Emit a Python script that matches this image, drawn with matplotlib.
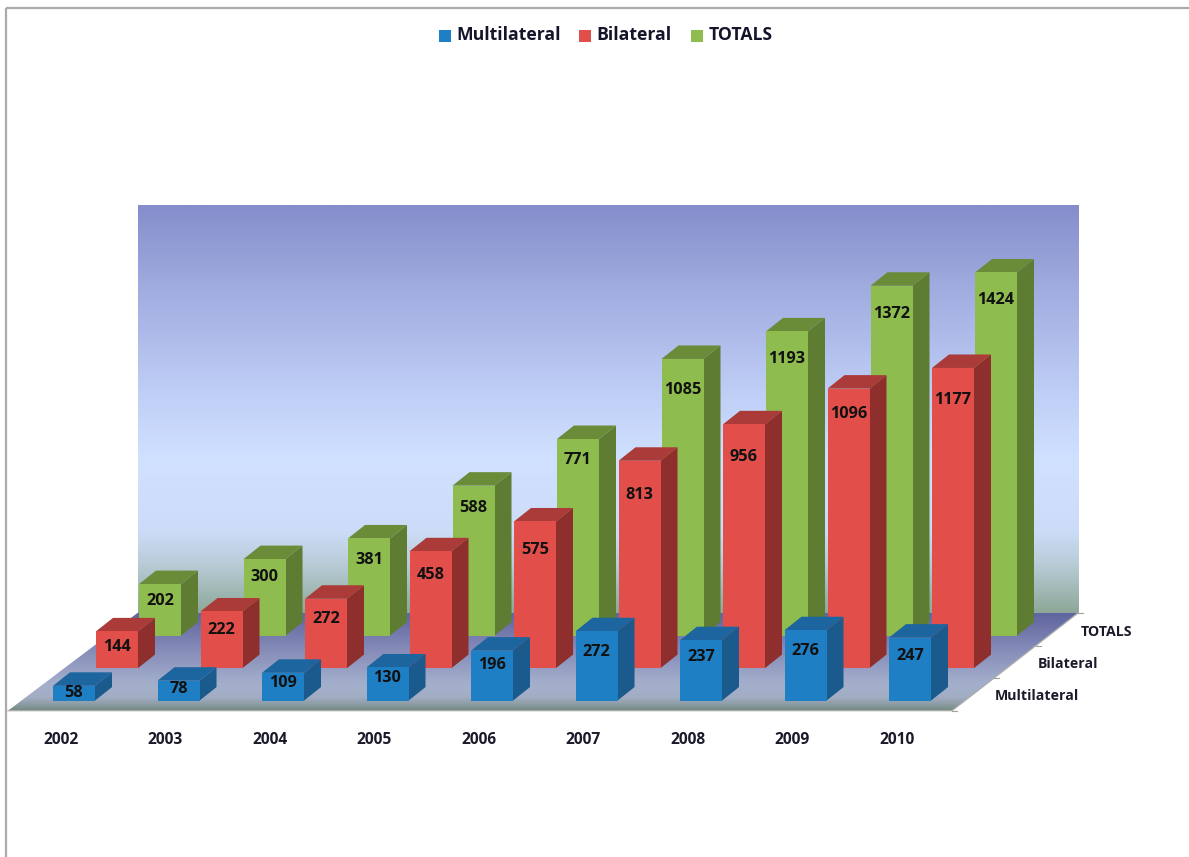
import numpy as np
import matplotlib
matplotlib.use("Agg")
import matplotlib.pyplot as plt
from matplotlib.colors import LinearSegmentedColormap
from matplotlib.patches import Polygon, Rectangle

# ---- data ----
years = ["2002", "2003", "2004", "2005", "2006", "2007", "2008", "2009", "2010"]
series_names = ["Multilateral", "Bilateral", "TOTALS"]
multilateral = [58, 78, 109, 130, 196, 272, 237, 276, 247]
bilateral = [144, 222, 272, 458, 575, 813, 956, 1096, 1177]
totals = [202, 300, 381, 588, 771, 1085, 1193, 1372, 1424]

# ---- layout (pixels) ----
W, H = 1189, 857
X0, Y0 = 53.0, 700.6      # front-left-bottom of first front bar
STEP = 104.5              # between years
SER_DX, SER_DY = 43.0, -32.5   # between series
BAR_W = 42.0
DEP_DX, DEP_DY = 17.0, -13.5   # bar depth
SCALE = 0.255             # px per unit
FLOOR = [(8, 710.7), (952, 710.7), (1078, 613), (137.5, 613)]
WALL_TOP = 205

label_drop = [
    [7, 8, 10, 11, 14, 21, 17, 21, 18],
    [16, 19, 20, 24, 29, 34, 33, 25, 32],
    [17, 18, 22, 22, 21, 31, 28, 28, 28],
]
faces = [
    ("#1F7FC4", "#1D659F", "#1B5A8C"),
    ("#E24F4A", "#AB3B38", "#8E2F2D"),
    ("#8EBC4F", "#6A8C39", "#5E7C32"),
]
all_values = [multilateral, bilateral, totals]

plt.rcParams["font.family"] = ["Open Sans", "DejaVu Sans"]
fig = plt.figure(figsize=(W / 100, H / 100), dpi=100, facecolor="white")
ax = fig.add_axes([0, 0, 1, 1])
ax.set_xlim(0, W)
ax.set_ylim(H, 0)
ax.axis("off")


def gradient(stops, extent, clip=None, z=1):
    cmap = LinearSegmentedColormap.from_list("g", stops)
    arr = np.linspace(0, 1, 256).reshape(-1, 1)
    im = ax.imshow(arr, cmap=cmap, extent=extent, aspect="auto", zorder=z, interpolation="bilinear")
    if clip is not None:
        poly = Polygon(clip, closed=True, transform=ax.transData, fc="none", ec="none")
        ax.add_patch(poly)
        im.set_clip_path(poly)


# frame of the original screenshot
ax.plot([6, 6], [H, 8], color="#ABABAB", lw=1.6, zorder=1, solid_capstyle="butt")
ax.plot([6, W], [8, 8], color="#ABABAB", lw=1.6, zorder=1, solid_capstyle="butt")

# back wall (extent: left, right, bottom, top)
wall_stops = [
    (0.00, "#858ECB"), (0.20, "#A0ABDF"), (0.45, "#BECDF5"), (0.62, "#D0E0FF"),
    (0.80, "#CCDCF8"), (0.88, "#B9CCD8"), (1.00, "#8DA898"),
]
gradient(wall_stops, (137.5, 1078, 613, WALL_TOP))

# floor
floor_stops = [
    (0.00, "#5F659F"), (0.35, "#8389B6"), (0.72, "#A4AFCC"), (0.86, "#A2ADC4"),
    (0.93, "#8D9DA4"), (1.00, "#73887F"),
]
gradient(floor_stops, (8, 1078, 710.7, 613), clip=FLOOR, z=2)
ax.plot([FLOOR[0][0], FLOOR[1][0], FLOOR[2][0]], [FLOOR[0][1], FLOOR[1][1], FLOOR[2][1]],
        color="#ABAEAB", lw=0.9, zorder=3)

# ticks along right floor edge
for k in range(4):
    fx = FLOOR[1][0] + (FLOOR[2][0] - FLOOR[1][0]) * k / 3
    fy = FLOOR[1][1] + (FLOOR[2][1] - FLOOR[1][1]) * k / 3
    ax.plot([fx, fx + 5], [fy, fy], color="#A0A0A0", lw=0.8, zorder=3)

# bars, back to front
z = 10
for s in (2, 1, 0):
    front, top, side = faces[s]
    for i, v in enumerate(all_values[s]):
        xl = X0 + STEP * i + SER_DX * s
        yb = Y0 + SER_DY * s
        h = v * SCALE
        yt = yb - h
        xr = xl + BAR_W
        ax.add_patch(Polygon([(xr, yb), (xr + DEP_DX, yb + DEP_DY), (xr + DEP_DX, yt + DEP_DY), (xr, yt)],
                             fc=side, ec="none", zorder=z))
        ax.add_patch(Polygon([(xl, yt), (xr, yt), (xr + DEP_DX, yt + DEP_DY), (xl + DEP_DX, yt + DEP_DY)],
                             fc=top, ec="none", zorder=z))
        ax.add_patch(Rectangle((xl, yt), BAR_W, h, fc=front, ec="none", zorder=z))
        ax.text(xl + BAR_W / 2, yt + label_drop[s][i], str(v), ha="center", va="center",
                fontsize=11.7, fontweight="bold", color="#111111", zorder=z + 1)
        z += 2

# axis labels
for i, y in enumerate(years):
    ax.text(61 + STEP * i, 739.5, y, ha="center", va="center", fontsize=11.2,
            fontweight="bold", color="#1A1A2A", zorder=50)
for s, name in enumerate(series_names):
    ax.text(995 + SER_DX * s, 696.5 + SER_DY * s, name, ha="left", va="center",
            fontsize=10.2, fontweight="bold", color="#1A1A2A", zorder=50)

# legend
legend_sq = [439, 579, 691]
for s, name in enumerate(series_names):
    ax.add_patch(Rectangle((legend_sq[s], 29.5), 12, 12, fc=faces[s][0], ec="none", zorder=50))
    ax.text(legend_sq[s] + 17.5, 35, name, ha="left", va="center", fontsize=12.7,
            fontweight="bold", color="#14142A", zorder=50)

fig.savefig("out.png", dpi=100, facecolor="white")
